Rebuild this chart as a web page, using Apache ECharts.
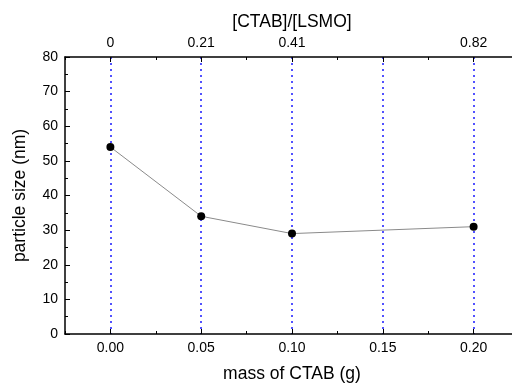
<!DOCTYPE html>
<html><head><meta charset="utf-8">
<script src="https://cdn.jsdelivr.net/npm/echarts@6/dist/echarts.min.js"></script>
<style>html,body{margin:0;padding:0;background:#fff}#c{width:512px;height:383px}</style>
</head><body><div id="c"></div>
<script>
const massValues = [0.00, 0.05, 0.10, 0.20];
const particleSize = [54, 34, 29, 31];
const majorTicks = [0.00, 0.05, 0.10, 0.15, 0.20];
const bottomTickLabels = ['0.00', '0.05', '0.10', '0.15', '0.20'];
const topTickLabels = ['0', '0.21', '0.41', '', '0.82'];
const yTicks = [0, 10, 20, 30, 40, 50, 60, 70, 80];

const font = 'Liberation Sans, Arial, sans-serif';
const chart = echarts.init(document.getElementById('c'), null, {renderer: 'canvas'});
function fmt(list){ return v => { const i = majorTicks.findIndex(t => Math.abs(t - v) < 1e-9); return i >= 0 ? list[i] : ''; }; }
const common = {type: 'value', min: -0.025, max: 0.225};
const titleStyle = {fontFamily: font, fontSize: 17.5, color: '#000'};
const tickStyle = {fontFamily: font, fontSize: 14, color: '#000'};
chart.setOption({
  animation: false,
  grid: {left: 65, top: 57, right: -7, bottom: 49, containLabel: false, outerBoundsMode: 'none'},
  xAxis: [
    Object.assign({}, common, {
      position: 'bottom', name: 'mass of CTAB (g)', nameLocation: 'middle', nameGap: 31,
      nameTextStyle: titleStyle,
      axisLine: {onZero: false, lineStyle: {color: '#000', width: 1.5}},
      axisTick: {inside: true, length: 5, customValues: majorTicks, lineStyle: {color: '#000'}},
      axisLabel: Object.assign({customValues: majorTicks, formatter: fmt(bottomTickLabels), margin: 7}, tickStyle),
      splitLine: {show: true, lineStyle: {color: '#1a1aff', type: [2, 4], width: 1.5}}
    }),
    Object.assign({}, common, {
      position: 'bottom', interval: 0.025,
      axisLine: {show: false, onZero: false}, axisLabel: {show: false}, splitLine: {show: false},
      axisTick: {inside: true, length: 3, lineStyle: {color: '#000'}}
    }),
    Object.assign({}, common, {
      position: 'top', name: '[CTAB]/[LSMO]', nameLocation: 'middle', nameGap: 26,
      nameTextStyle: titleStyle,
      axisLine: {onZero: false, lineStyle: {color: '#000', width: 1.5}},
      axisTick: {inside: true, length: 5, customValues: majorTicks, lineStyle: {color: '#000'}},
      axisLabel: Object.assign({customValues: majorTicks, formatter: fmt(topTickLabels), margin: 7}, tickStyle),
      splitLine: {show: false}
    }),
    Object.assign({}, common, {
      position: 'top', interval: 0.025,
      axisLine: {show: false, onZero: false}, axisLabel: {show: false}, splitLine: {show: false},
      axisTick: {inside: true, length: 3, lineStyle: {color: '#000'}}
    })
  ],
  yAxis: {
    type: 'value', min: yTicks[0], max: yTicks[yTicks.length - 1], interval: 10,
    name: 'particle size (nm)', nameLocation: 'middle', nameGap: 36,
    nameTextStyle: titleStyle,
    axisLine: {show: true, onZero: false, lineStyle: {color: '#000', width: 1.5}},
    axisTick: {show: true, inside: true, length: 5, lineStyle: {color: '#000'}},
    minorTick: {show: true, splitNumber: 2, length: 3, lineStyle: {color: '#000'}},
    axisLabel: Object.assign({margin: 7}, tickStyle),
    splitLine: {show: false}
  },
  series: [{
    type: 'line', xAxisIndex: 0,
    data: massValues.map((m, i) => [m, particleSize[i]]),
    symbol: 'circle', symbolSize: 8, z: 5,
    itemStyle: {color: '#000'},
    lineStyle: {color: '#8a8a8a', width: 1}
  }]
});
</script></body></html>
